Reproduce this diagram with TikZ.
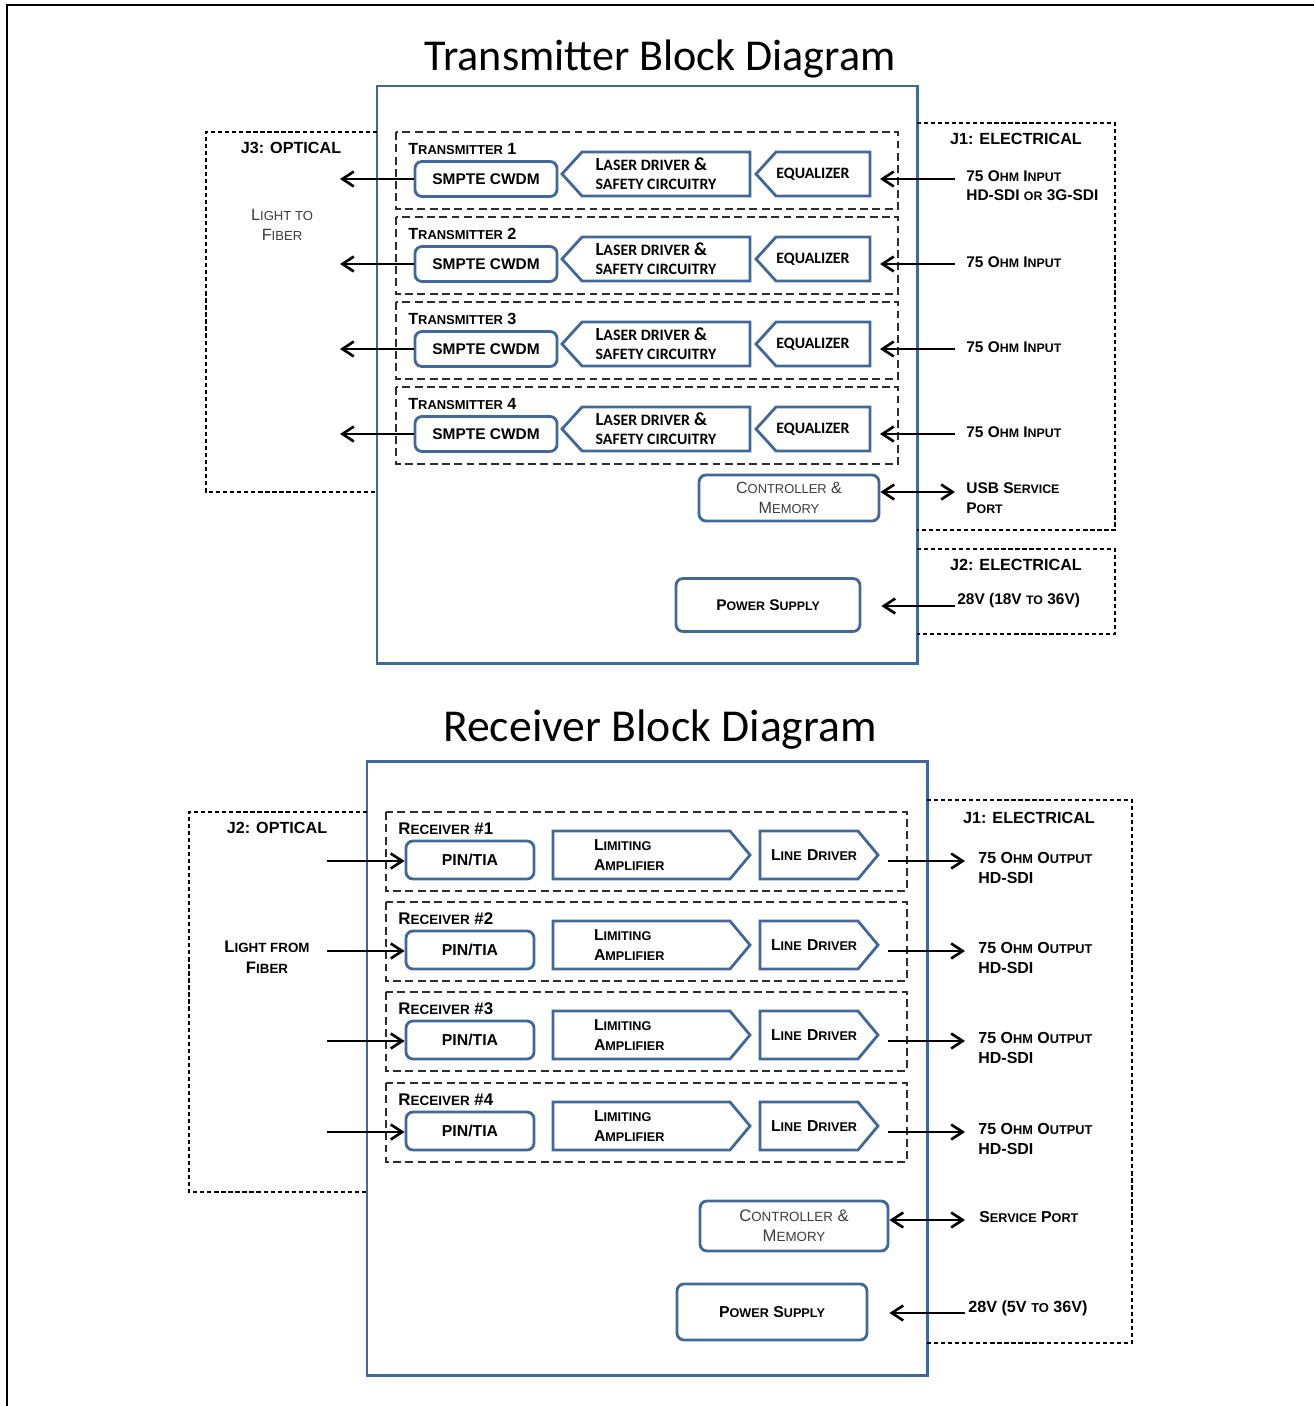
\documentclass[tikz,border=0pt]{standalone}
\usepackage{fontspec}
\setmainfont{Liberation Sans}
\newfontfamily\calfont{Carlito}
\usetikzlibrary{arrows.meta}

\definecolor{boxblue}{RGB}{66,103,153}
\definecolor{dashgray}{RGB}{45,45,45}
\definecolor{softgray}{RGB}{60,60,60}

\newdimen\pxu
\pxu=0.02cm
\newcommand\lsc[1]{\scalebox{0.8}{#1}}
\newcommand\calsc[1]{\scalebox{0.86}{#1}}

\tikzset{
  blk/.style={draw=boxblue, line width=1.6pt, rounded corners=4pt, align=center, inner sep=0pt, font=\bfseries\fontsize{8.8}{11}\selectfont},
  ctl/.style={blk, font=\fontsize{9.2}{11.3}\selectfont, text=softgray},
  pent/.style={inner sep=0pt, outer sep=0pt, align=left},
  pentline/.style={draw=boxblue, line width=1.6pt, line join=miter},
  grp/.style={draw=dashgray, line width=1.6pt, dash pattern=on 4.5pt off 2.5pt},
  port/.style={draw=black, line width=0.85pt, dash pattern=on 2.4pt off 1.6pt},
  mainbox/.style={draw=boxblue, line width=1.7pt},
  sig/.style={line width=1.1pt, -{Straight Barb[length=6.5pt,width=8.5pt,line width=1.5pt]}},
  sigboth/.style={line width=1.1pt, {Straight Barb[length=6.5pt,width=8.5pt,line width=1.5pt]}-{Straight Barb[length=6.5pt,width=8.5pt,line width=1.5pt]}},
  ptitle/.style={font=\bfseries\fontsize{9.2}{11}\selectfont, inner sep=0pt},
  glbl/.style={anchor=west, inner sep=0pt, font=\bfseries\fontsize{9.2}{11}\selectfont},
  lbl/.style={anchor=west, align=left, inner sep=0pt, font=\bfseries\fontsize{8.8}{11}\selectfont},
  ttl/.style={font=\calfont\fontsize{25.1}{28}\selectfont, inner sep=0pt}
}

\begin{document}
\begin{tikzpicture}[x=0.02cm,y=-0.02cm]
\useasboundingbox (0,0) rectangle (1314,1406);
\draw[line width=1.1pt] (7,1406) -- (7,5) -- (1314,5);

% transmitter
\node[ttl] (txtitle) at (660,59) {Transmitter Block Diagram};
\draw[mainbox] (377,86) rectangle (917,663);
\draw[port] (377,132) -- (206,132) -- (206,492) -- (377,492);
\draw[port] (917,123) -- (1115,123) -- (1115,530) -- (917,530);
\draw[port] (917,549) -- (1115,549) -- (1115,634) -- (917,634);
\node[ptitle] (j3) at (291,148) {J3: OPTICAL};
\node[ptitle] (j1tx) at (1016,139) {J1: ELECTRICAL};
\node[ptitle] (j2tx) at (1016,565) {J2: ELECTRICAL};
\node[align=center, inner sep=0pt, text=softgray, font=\fontsize{9.3}{11.3}\selectfont] (lightto) at (282,225) {L\lsc{IGHT TO}\\F\lsc{IBER}};

\foreach \i/\y in {1/0,2/85,3/170,4/255}{
\begin{scope}[shift={(0,\y)}]
\draw[grp] (396,132) rectangle (898,209);
\node[glbl] (txl\i) at (408,149) {T\lsc{RANSMITTER} \i};
\node[blk, minimum width=142\pxu, minimum height=35\pxu] (smpte\i) at (486,179) {SMPTE CWDM};
\node[pent, minimum width=188\pxu, minimum height=44\pxu, font=\calfont\bfseries\fontsize{10.5}{11}\selectfont] (laser\i) at (656,174) {L\calsc{ASER DRIVER} \&\\\calsc{SAFETY CIRCUITRY}};
\draw[pentline] (laser\i.north east) -- ([xshift=20\pxu]laser\i.north west) -- (laser\i.west) -- ([xshift=20\pxu]laser\i.south west) -- (laser\i.south east) -- cycle;
\node[pent, minimum width=114\pxu, minimum height=44\pxu, font=\calfont\bfseries\fontsize{10.5}{11}\selectfont] (eq\i) at (813,174) {\calsc{EQUALIZER}};
\draw[pentline] (eq\i.north east) -- ([xshift=20\pxu]eq\i.north west) -- (eq\i.west) -- ([xshift=20\pxu]eq\i.south west) -- (eq\i.south east) -- cycle;
\coordinate (optout\i) at (340,179);
\coordinate (elin\i) at (955,179);
\coordinate (eqin\i) at (880,179);
\draw[sig] (smpte\i) -- (optout\i);
\draw[sig] (elin\i) -- (eqin\i);
\end{scope}
}
\node[lbl] (in1) at (966,186) {75 O\lsc{HM} I\lsc{NPUT}\\HD-SDI \lsc{OR} 3G-SDI};
\foreach \y in {262,347,432}
  \node[lbl] (in\y) at (966,\y) {75 O\lsc{HM} I\lsc{NPUT}};

\node[ctl, minimum width=180\pxu, minimum height=46\pxu] (ctrltx) at (789,498) {C\lsc{ONTROLLER} \&\\M\lsc{EMORY}};
\coordinate (usb) at (955,492);
\draw[sigboth] ([yshift=6\pxu]ctrltx.east) -- (usb);
\node[lbl] (usbl) at (966,498) {USB S\lsc{ERVICE}\\P\lsc{ORT}};

\node[blk, minimum width=184\pxu, minimum height=53\pxu] (pwrtx) at (768,605) {P\lsc{OWER} S\lsc{UPPLY}};
\coordinate (vintx) at (955,606);
\draw[sig] (vintx) -- ([xshift=20\pxu]pwrtx.east |- vintx);
\node[lbl] (vtx) at (957,600) {28V (18V \lsc{TO} 36V)};

% receiver
\node[ttl, font=\calfont\fontsize{26}{29}\selectfont] (rxtitle) at (660,730) {Receiver Block Diagram};
\draw[mainbox] (367,761) rectangle (927,1375);
\draw[port] (367,812) -- (189,812) -- (189,1192) -- (367,1192);
\draw[port] (927,800) -- (1132,800) -- (1132,1343) -- (927,1343);
\node[ptitle] (j2rx) at (277,828) {J2: OPTICAL};
\node[ptitle] (j1rx) at (1029,818) {J1: ELECTRICAL};
\node[align=center, inner sep=0pt, font=\bfseries\fontsize{9.5}{11.8}\selectfont] (lightfrom) at (267,957) {L\lsc{IGHT FROM}\\F\lsc{IBER}};

\foreach \i/\y in {1/0,2/90,3/180,4/271}{
\begin{scope}[shift={(0,\y)}]
\draw[grp] (386,812) rectangle (907,891);
\node[glbl, font=\bfseries\fontsize{9.6}{11}\selectfont] (rxl\i) at (398,829) {R\lsc{ECEIVER} \#\i};
\node[blk, font=\bfseries\fontsize{9}{11}\selectfont, minimum width=128\pxu, minimum height=38\pxu] (pin\i) at (470,860) {PIN/TIA};
\node[pent, text width=115\pxu, minimum width=197\pxu, minimum height=48\pxu, font=\bfseries\fontsize{9}{11.3}\selectfont] (lim\i) at (651.5,855) {L\lsc{IMITING}\\A\lsc{MPLIFIER}};
\draw[pentline] (lim\i.north west) -- ([xshift=-20\pxu]lim\i.north east) -- (lim\i.east) -- ([xshift=-20\pxu]lim\i.south east) -- (lim\i.south west) -- cycle;
\node[pent, text width=96\pxu, minimum width=118\pxu, minimum height=48\pxu, font=\bfseries\fontsize{9}{11}\selectfont] (ld\i) at (819,855) {L\lsc{INE} D\lsc{RIVER}};
\draw[pentline] (ld\i.north west) -- ([xshift=-20\pxu]ld\i.north east) -- (ld\i.east) -- ([xshift=-20\pxu]ld\i.south east) -- (ld\i.south west) -- cycle;
\coordinate (optin\i) at (327,861);
\coordinate (ldout\i) at (888,861);
\coordinate (elout\i) at (965,861);
\draw[sig] (optin\i) -- (pin\i.west |- optin\i);
\draw[sig] (ldout\i) -- (elout\i);
\node[lbl, font=\bfseries\fontsize{9.1}{11.3}\selectfont] (out\i) at (978,868) {75 O\lsc{HM} O\lsc{UTPUT}\\HD-SDI};
\end{scope}
}

\node[ctl, font=\fontsize{9.5}{11.3}\selectfont, minimum width=188\pxu, minimum height=50\pxu] (ctrlrx) at (794,1226) {C\lsc{ONTROLLER} \&\\M\lsc{EMORY}};
\coordinate (svc) at (965,1220);
\draw[sigboth] ([yshift=6\pxu]ctrlrx.east) -- (svc);
\node[lbl, font=\bfseries\fontsize{9}{11}\selectfont] (svcl) at (979,1217) {S\lsc{ERVICE} P\lsc{ORT}};

\node[blk, font=\bfseries\fontsize{9}{11}\selectfont, minimum width=190\pxu, minimum height=56\pxu] (pwrrx) at (772,1312) {P\lsc{OWER} S\lsc{UPPLY}};
\coordinate (vinrx) at (965,1313);
\draw[sig] (vinrx) -- ([xshift=21\pxu]pwrrx.east |- vinrx);
\node[lbl, font=\bfseries\fontsize{9.2}{11}\selectfont] (vrx) at (968,1308) {28V (5V \lsc{TO} 36V)};

\end{tikzpicture}
\end{document}
